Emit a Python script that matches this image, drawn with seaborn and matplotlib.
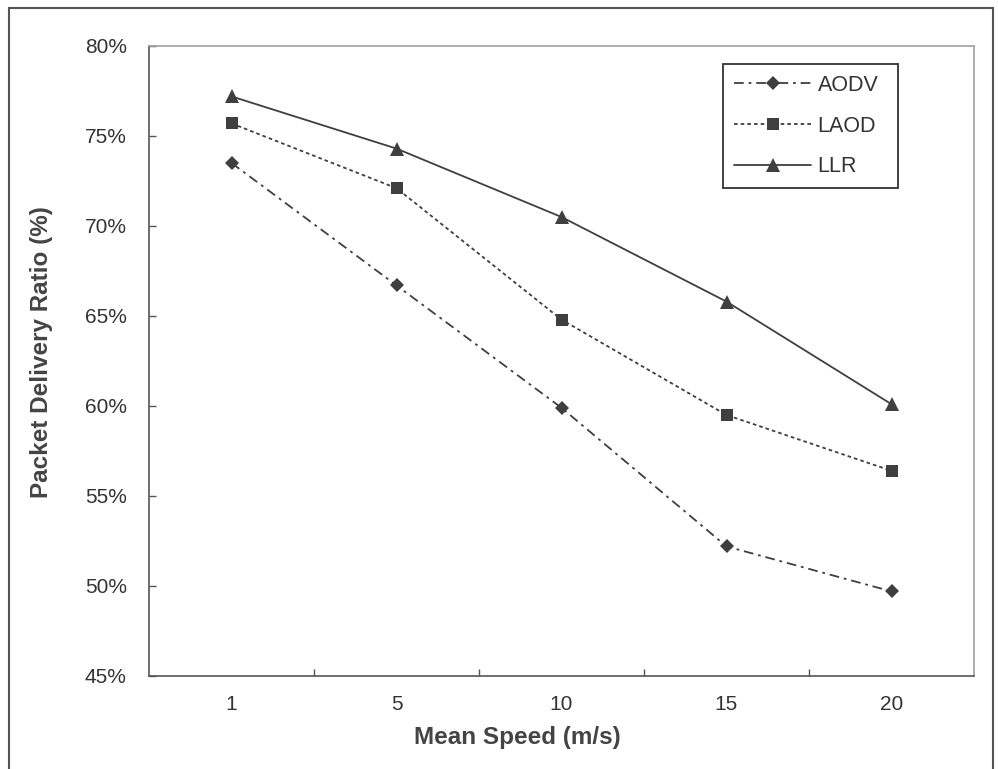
import matplotlib
matplotlib.use("Agg")
import matplotlib.pyplot as plt
import matplotlib.patches as mpatches
from matplotlib.ticker import FixedLocator, FuncFormatter
import seaborn as sns
import pandas as pd

# ---- data ----
speeds = ["1", "5", "10", "15", "20"]
aodv = [73.5, 66.7, 59.9, 52.2, 49.7]
laod = [75.7, 72.1, 64.8, 59.5, 56.4]
llr = [77.2, 74.3, 70.5, 65.8, 60.1]
series_names = ["AODV", "LAOD", "LLR"]
y_ticks = [45, 50, 55, 60, 65, 70, 75, 80]

sns.set_theme(style="white")
plt.rcParams["font.family"] = ["Liberation Sans", "DejaVu Sans"]
plt.rcParams["lines.scale_dashes"] = False

rows = []
for name, vals in zip(series_names, [aodv, laod, llr]):
    for i, v in enumerate(vals):
        rows.append({"pos": i, "val": v, "series": name})
df = pd.DataFrame(rows)

ink = "#3f3f3f"
fig = plt.figure(figsize=(9.98, 7.69), dpi=100)
ax = fig.add_axes([149 / 998, 1 - 676 / 769, 825 / 998, 630 / 769])

sns.lineplot(
    data=df, x="pos", y="val", hue="series", style="series",
    palette={n: ink for n in series_names},
    markers={"AODV": "D", "LAOD": "s", "LLR": "^"},
    dashes={"AODV": (7, 3.5, 2, 3.5), "LAOD": (2.6, 2.2), "LLR": ""},
    linewidth=1.3, markersize=8.8, markeredgewidth=0,
    ax=ax, legend=True,
)
for line in ax.get_lines():
    m = line.get_marker()
    if m == "D":
        line.set_markersize(7.6)
    elif m == "^":
        line.set_markersize(9.8)

ax.set_xlim(-0.5, 4.5)
ax.set_ylim(45, 80)

ax.set_xticks(range(len(speeds)))
ax.set_xticklabels(speeds)
ax.xaxis.set_minor_locator(FixedLocator([0.5, 1.5, 2.5, 3.5]))
ax.tick_params(axis="x", which="major", length=0, pad=14, labelsize=15, labelcolor="#333333")
ax.tick_params(axis="x", which="minor", direction="in", length=5, width=1, color="#555555", bottom=True)

ax.set_yticks(y_ticks)
ax.yaxis.set_major_formatter(FuncFormatter(lambda v, p: f"{v:.0f}%"))
ax.tick_params(axis="y", which="major", direction="in", length=5, width=1, color="#555555",
               pad=16, labelsize=15, labelcolor="#333333", left=True)

for side in ["left", "bottom"]:
    ax.spines[side].set_color("#555555")
    ax.spines[side].set_linewidth(1.2)
for side in ["top", "right"]:
    ax.spines[side].set_color("#a0a0a0")
    ax.spines[side].set_linewidth(1.2)
ax.grid(False)

ax.set_xlabel("Mean Speed (m/s)", fontsize=17.5, fontweight="bold", color="#444444")
ax.xaxis.set_label_coords(0.4467, -0.098)
ax.xaxis.label.set_va("center")
ax.set_ylabel("Packet Delivery Ratio (%)", fontsize=17.5, fontweight="bold", color="#444444")
ax.yaxis.set_label_coords(-0.1297, 0.514)
ax.yaxis.label.set_va("center")

handles, labels = ax.get_legend_handles_labels()
hmap = dict(zip(labels, handles))
leg = ax.legend(
    [hmap[n] for n in series_names], series_names,
    loc="upper left", bbox_to_anchor=(723 / 998, 1 - 189 / 769, 175 / 998, 125 / 769),
    bbox_transform=fig.transFigure, mode="expand",
    fontsize=15.5, frameon=True, fancybox=False, framealpha=1,
    edgecolor="#333333", handlelength=3.6, handletextpad=0.3,
    labelspacing=0.92, borderpad=0.5, borderaxespad=0,
)
leg.get_frame().set_linewidth(1.3)
for t in leg.get_texts():
    t.set_color("#333333")

# outer chart border
fig.patches.append(mpatches.Rectangle(
    (9 / 998, -0.01), 984 / 998, 1.01 - 8 / 769,
    transform=fig.transFigure, fill=False, edgecolor="#555555", linewidth=1.5, zorder=0))

fig.savefig("out.png", dpi=100, facecolor="white")
